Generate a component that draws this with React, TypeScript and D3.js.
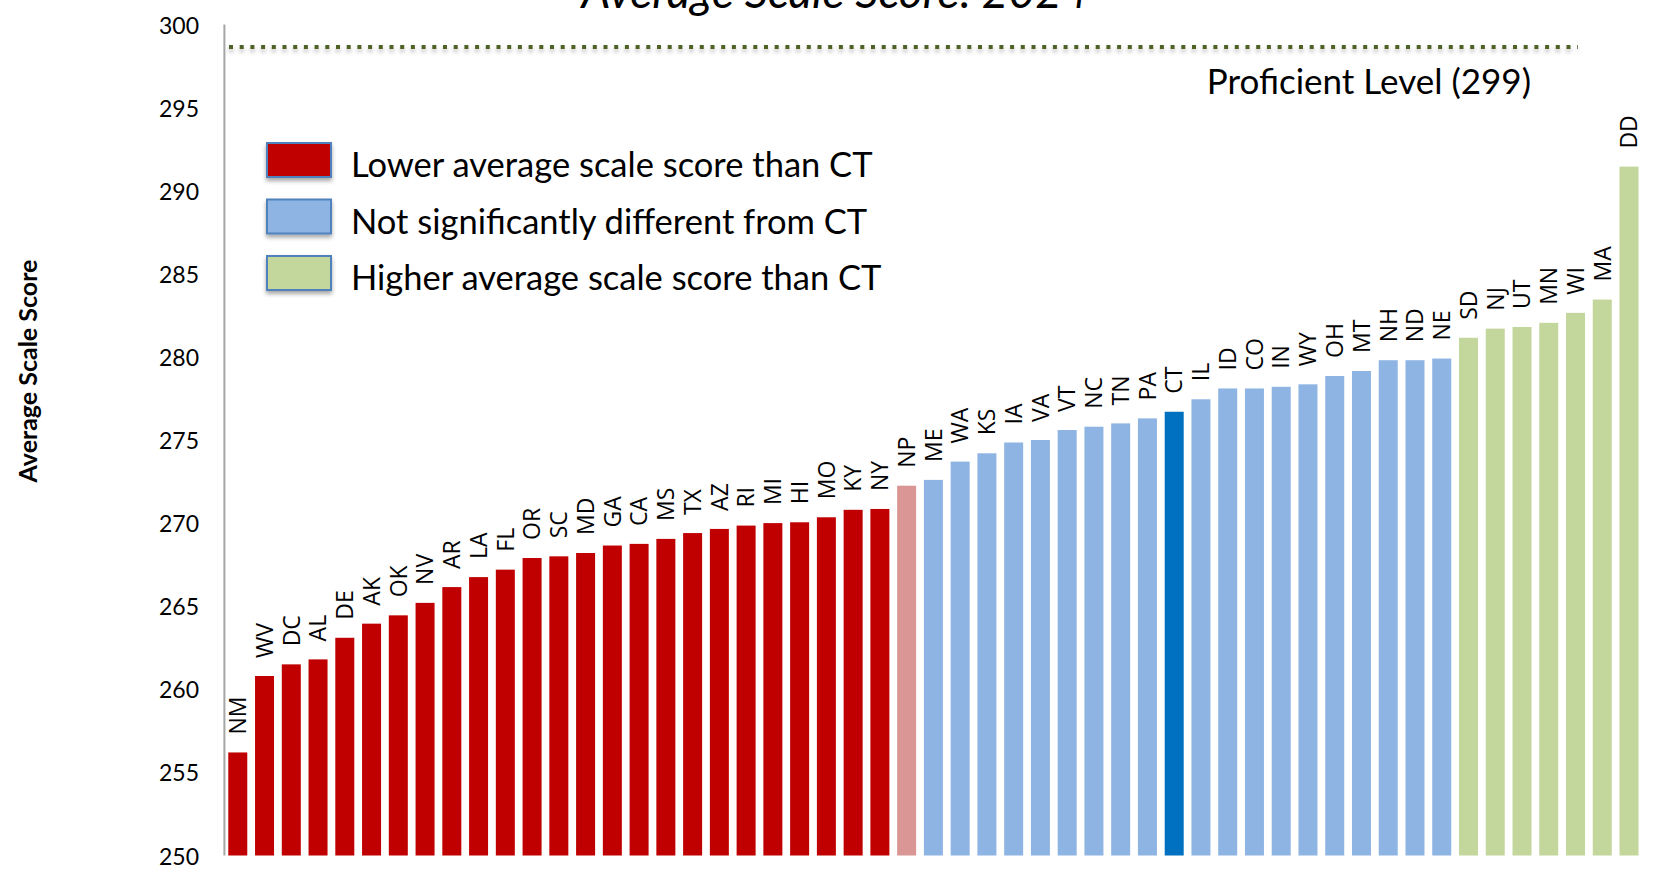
import React from 'react';
import * as d3 from 'd3';

const states = ['NM','WV','DC','AL','DE','AK','OK','NV','AR','LA','FL','OR','SC','MD','GA','CA','MS','TX','AZ','RI','MI','HI','MO','KY','NY','NP','ME','WA','KS','IA','VA','VT','NC','TN','PA','CT','IL','ID','CO','IN','WY','OH','MT','NH','ND','NE','SD','NJ','UT','MN','WI','MA','DD'];
const scores = [256.2,260.8,261.5,261.8,263.1,263.95,264.45,265.2,266.15,266.75,267.2,267.9,268.0,268.2,268.65,268.75,269.05,269.4,269.65,269.85,270.0,270.05,270.35,270.8,270.85,272.25,272.6,273.7,274.2,274.85,275.0,275.6,275.8,276.0,276.3,276.7,277.45,278.1,278.1,278.2,278.35,278.85,279.15,279.8,279.8,279.9,281.15,281.7,281.8,282.05,282.65,283.45,291.45];
const groups = ['lower','lower','lower','lower','lower','lower','lower','lower','lower','lower','lower','lower','lower','lower','lower','lower','lower','lower','lower','lower','lower','lower','lower','lower','lower','np','same','same','same','same','same','same','same','same','same','ct','same','same','same','same','same','same','same','same','same','same','higher','higher','higher','higher','higher','higher','higher'];
const yTicks = [250,255,260,265,270,275,280,285,290,295,300];
const legendKeys = ['lower','same','higher'];
const legendLabels = ['Lower average scale score than CT','Not significantly different from CT','Higher average scale score than CT'];
const proficientLineValue = 298.65;
const proficientLabel = 'Proficient Level (299)';
const titleText = 'Average Scale Score: 2024';
const yTitle = 'Average Scale Score';

const colors: Record<string, string> = {
  lower: '#C00000',
  np: '#D99694',
  same: '#8EB4E3',
  ct: '#0070C0',
  higher: '#C3D69B',
};

const W = 1653;
const H = 872;
const FONT = 'Lato, "Open Sans", sans-serif';
const LABEL_FONT = '"Open Sans", Lato, sans-serif';

export default function App() {
  const x = d3.scaleBand<string>().domain(states).range([224.4, 1642.4]).paddingInner(0.29).paddingOuter(0.145);
  const y = d3.scaleLinear().domain([250, 300]).range([855.5, 24.5]);
  const bw = x.bandwidth();
  const py = y(proficientLineValue);

  return (
    <svg width={W} height={H} style={{ position: 'absolute', left: 0, top: 0, background: '#fff' }} fontFamily={FONT}>
      <defs>
        <filter id="shadow" filterUnits="userSpaceOnUse" x={200} y={py - 20} width={1420} height={40}>
          <feDropShadow dx="0" dy="3" stdDeviation="2" floodColor="#000" floodOpacity="0.3" />
        </filter>
        <filter id="swshadow" x="-20%" y="-20%" width="140%" height="160%">
          <feDropShadow dx="0" dy="3" stdDeviation="2" floodColor="#000" floodOpacity="0.35" />
        </filter>
      </defs>
      <rect x={0} y={0} width={W} height={H} fill="#fff" />

      {/* title (partly cut off at top, as in the reference) */}
      <text x={835} y={7.5} textAnchor="middle" fontSize={46} fontStyle="italic" fill="#000">{titleText}</text>

      {/* y axis title */}
      <text transform={`translate(26.5,371) rotate(-90)`} textAnchor="middle" dominantBaseline="central" fontSize={25} fontWeight="bold" fill="#000">{yTitle}</text>

      {/* y tick labels */}
      {yTicks.map((t) => (
        <text key={t} x={199} y={y(t)} textAnchor="end" dominantBaseline="central" fontSize={23} fill="#000">{t}</text>
      ))}

      {/* bars */}
      {states.map((s, i) => (
        <rect key={s} x={x(s)} y={y(scores[i])} width={bw} height={y(250) - y(scores[i])} fill={colors[groups[i]]} />
      ))}

      {/* bar labels */}
      {states.map((s, i) => (
        <text key={'l' + s} transform={`translate(${(x(s) as number) + bw / 2},${y(scores[i]) - 18}) rotate(-90)`} dy="0.36em" textAnchor="start" fontSize={23} fontFamily={LABEL_FONT} fill="#000">{s}</text>
      ))}

      {/* y axis line */}
      <line x1={224.4} x2={224.4} y1={y(300)} y2={y(250)} stroke="#A6A6A6" strokeWidth={2} />

      {/* proficient line */}
      <line x1={229} x2={1578} y1={py} y2={py} stroke="#4F6228" strokeWidth={4} strokeDasharray="4 6.7" filter="url(#shadow)" />
      <text x={1531} y={94} textAnchor="end" fontSize={35} fill="#000">{proficientLabel}</text>

      {/* legend */}
      {legendKeys.map((k, i) => {
        const top = 143 + i * 56.5;
        return (
          <g key={k}>
            <rect x={267} y={top} width={64} height={34} fill={colors[k]} stroke="#4F81BD" strokeWidth={2} filter="url(#swshadow)" />
            <text x={351} y={top + 17 + 17} fontSize={34.5} fill="#000">{legendLabels[i]}</text>
          </g>
        );
      })}
    </svg>
  );
}
